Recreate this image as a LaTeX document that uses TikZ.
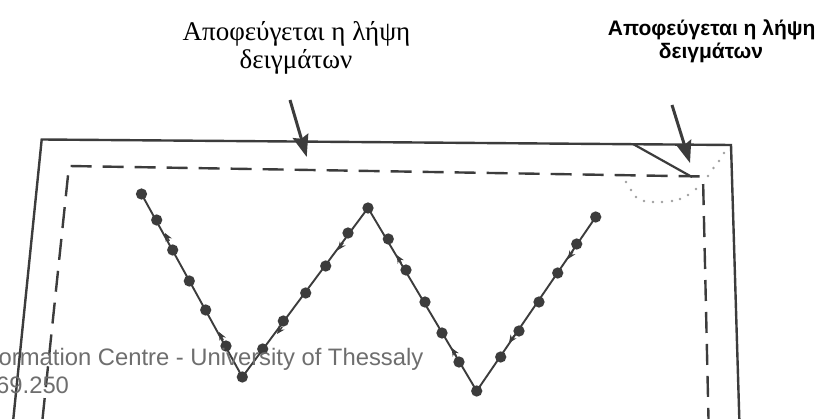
\documentclass[tikz,border=0pt]{standalone}
\usepackage{fontspec}
\setmainfont{Liberation Serif}
\newfontfamily\sansbold{Liberation Sans}
\usetikzlibrary{arrows.meta,calc}
\definecolor{ink}{HTML}{3C3C3C}
\definecolor{wm}{HTML}{6E6E6E}
\tikzset{
  frameline/.style={draw=ink, line width=2.4pt},
  dashline/.style={draw=ink, line width=2.4pt, dash pattern=on 21pt off 11pt},
  zigline/.style={draw=ink, line width=1.9pt},
  sdot/.style={circle, fill=ink, inner sep=0pt, minimum size=11.3pt},
  dotmark/.style={circle, fill=gray!75, inner sep=0pt, minimum size=2.8pt},
  bigarrow/.style={draw=ink, line width=3pt, -{Stealth[length=22pt,width=16pt,inset=3pt]}},
  smallarrow/.style={draw=ink, line width=1.4pt, -{Stealth[length=8pt,width=7pt]}},
  serlabel/.style={font=\fontsize{27}{30}\selectfont, inner sep=0pt, anchor=base},
  sanslabel/.style={font=\sansbold\bfseries\fontsize{21}{24}\selectfont, inner sep=0pt, anchor=base},
  wmtext/.style={font=\sansbold\fontsize{23.8}{26}\selectfont, text=wm, inner sep=0pt, anchor=base west}
}
\begin{document}
\begin{tikzpicture}[x=1pt,y=-1pt]
\useasboundingbox (0,0) rectangle (817,419);
\fill[white] (0,0) rectangle (817,419);
\clip (0,0) rectangle (817,419);

% outer frame
\coordinate (oBL) at (12.7,425);
\coordinate (oTL) at (41.7,139.5);
\coordinate (oTR) at (731,145);
\coordinate (oBR) at (739.5,425);
\draw[frameline, line join=miter] (oBL) -- (oTL) -- (oTR) -- (oBR);

% inner dashed boundary
\coordinate (dBL) at (42.5,419);
\coordinate (dTL) at (69,166);
\coordinate (dTR) at (703,176.5);
\coordinate (dBR) at (708.5,419);
\draw[dashline] (dBL) -- (dTL) -- (dTR) -- (dBR);

% corner diagonal
\coordinate (cdA) at (633,144);
\coordinate (cdB) at (692,177);
\draw[frameline, line width=2.2pt] (cdA) -- (cdB);

% dotted arcs at corner
\foreach \p [count=\i] in {(626,182),(631,190),(636,197),(644,201),(653,202),(662,202),(672,201),(680,199),(688,195),(696,189),(708,176),(713.5,168),(719,161),(724,153)}
  \node[dotmark] (dm\i) at \p {};

% labels
\node[serlabel] (lblA1) at (296.5,40.7) {Αποφεύγεται η λήψη};
\node[serlabel] (lblA2) at (296,68.5) {δειγμάτων};
\node[sanslabel] (lblB1) at (711.7,36) {Αποφεύγεται η λήψη};
\node[sanslabel] (lblB2) at (711,59) {δειγμάτων};

% big arrows
\coordinate (arA0) at (290,100);
\coordinate (arA1) at (306.7,157);
\draw[bigarrow] (arA0) -- (arA1);
\coordinate (arB0) at (672,105);
\coordinate (arB1) at (690,163);
\draw[bigarrow] (arB0) -- (arB1);

% zigzag sampling path
\coordinate (S1) at (141.5,194);
\coordinate (B1) at (242.3,377);
\coordinate (P) at (368,208);
\coordinate (B2) at (476.7,391);
\coordinate (E) at (595.7,217);
\draw[zigline, line join=round] (S1) -- (B1) -- (P) -- (B2) -- (E);

% small direction arrows (tips)
\coordinate (t1) at (165,233);
\coordinate (t2) at (219,332);
\coordinate (t3) at (338,250);
\coordinate (t4) at (277,334);
\coordinate (t5) at (396.7,255);
\coordinate (t6) at (451.7,348);
\coordinate (t7) at (568,259);
\coordinate (t8) at (509,343);
\draw[smallarrow] ($(t1)!9pt!(B1)$) -- (t1);
\draw[smallarrow] ($(t2)!9pt!(B1)$) -- (t2);
\draw[smallarrow] ($(t3)!9pt!(P)$) -- (t3);
\draw[smallarrow] ($(t4)!9pt!(P)$) -- (t4);
\draw[smallarrow] ($(t5)!9pt!(B2)$) -- (t5);
\draw[smallarrow] ($(t6)!9pt!(B2)$) -- (t6);
\draw[smallarrow] ($(t7)!9pt!(E)$) -- (t7);
\draw[smallarrow] ($(t8)!9pt!(E)$) -- (t8);

% sample points
\foreach \p [count=\i] in {(141.5,194),(156.7,220),(172.7,250),(189.3,281),(205.7,310),(226,346),(242.3,377),
  (262.7,349),(283.3,321),(305.7,293),(325.7,266),(348,233),(368,208),
  (388.3,239),(406,270),(425,302),(442,333),(459,362),(476.7,391),
  (500.7,357),(519,331),(539,302),(557.7,273),(576.7,244),(595.7,217)}
  \node[sdot] (sp\i) at \p {};

% watermark
\node[wmtext] (wm1) at (-1.5,366) {ormation Centre - University of Thessaly};
\node[wmtext] (wm2) at (-4,394) {69.250};
\end{tikzpicture}
\end{document}
